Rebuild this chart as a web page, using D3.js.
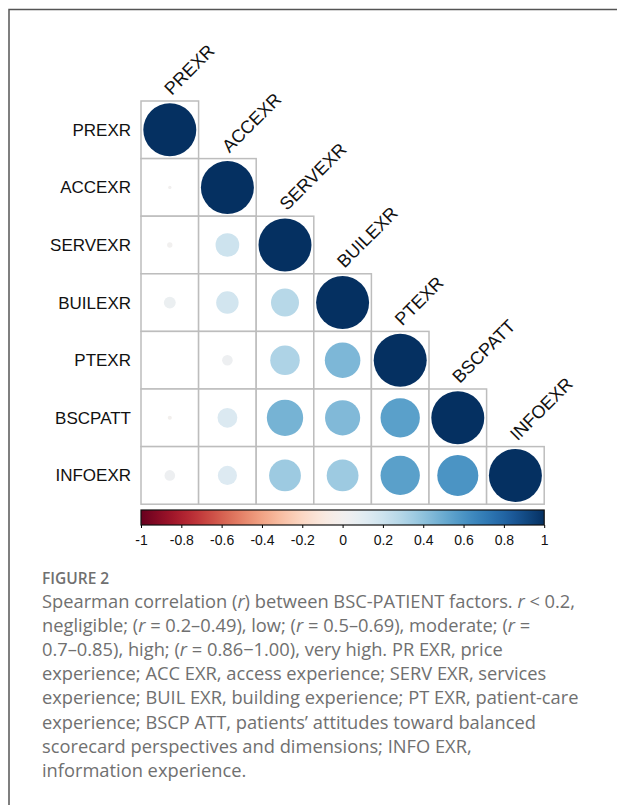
<!DOCTYPE html>
<html>
<head>
<meta charset="utf-8">
<script src="https://cdn.jsdelivr.net/npm/d3@7"></script>
<style>
  body { margin: 0; background: #fff; }
  .caption { font-family: "Open Sans", sans-serif; }
</style>
</head>
<body>
<div class="chart"></div>
<script>
// variable names (rows top to bottom, columns left to right)
const vars = ["PREXR", "ACCEXR", "SERVEXR", "BUILEXR", "PTEXR", "BSCPATT", "INFOEXR"];

// lower triangle of the Spearman matrix, one array per row
const rowPREXR = [1];
const rowACCEXR = [0.004, 1];
const rowSERVEXR = [0.01, 0.2, 1];
const rowBUILEXR = [0.05, 0.18, 0.28, 1];
const rowPTEXR = [0.0, 0.04, 0.31, 0.45, 1];
const rowBSCPATT = [-0.006, 0.14, 0.47, 0.44, 0.55, 1];
const rowINFOEXR = [0.04, 0.13, 0.36, 0.36, 0.55, 0.6, 1];

const legendTicks = [-1, -0.8, -0.6, -0.4, -0.2, 0, 0.2, 0.4, 0.6, 0.8, 1];

const rows = [rowPREXR, rowACCEXR, rowSERVEXR, rowBUILEXR, rowPTEXR, rowBSCPATT, rowINFOEXR];

const captionTitle = "FIGURE 2";
const captionLines = [
  [["Spearman correlation ("], ["r", 1], [") between BSC-PATIENT factors. "], ["r", 1], [" < 0.2,"]],
  [["negligible; ("], ["r", 1], [" = 0.2\u20130.49), low; ("], ["r", 1], [" = 0.5\u20130.69), moderate; ("], ["r", 1], [" ="]],
  [["0.7\u20130.85), high; ("], ["r", 1], [" = 0.86\u22121.00), very high. PR EXR, price"]],
  [["experience; ACC EXR, access experience; SERV EXR, services"]],
  [["experience; BUIL EXR, building experience; PT EXR, patient-care"]],
  [["experience; BSCP ATT, patients\u2019 attitudes toward balanced"]],
  [["scorecard perspectives and dimensions; INFO EXR,"]],
  [["information experience."]]
];

const W = 617, H = 805;
const svg = d3.select(".chart").append("svg").attr("width", W).attr("height", H);

// outer frame
svg.append("rect")
  .attr("x", 9).attr("y", 9.5)
  .attr("width", 700).attr("height", 900)
  .attr("fill", "none").attr("stroke", "#555").attr("stroke-width", 1.5);

const gx0 = 141, gy0 = 101, cell = 57.6;
const xScale = d3.scaleBand().domain(vars).range([gx0, gx0 + cell * 7]);
const yScale = d3.scaleBand().domain(vars).range([gy0, gy0 + cell * 7]);
const rScale = d3.scaleSqrt().domain([0, 1]).range([0, cell * 0.46]);
const color = d3.scaleSequential(d3.interpolateRdBu).domain([-1, 1]);

const cells = [];
rows.forEach((r, i) => r.forEach((v, j) => cells.push({ row: vars[i], col: vars[j], v })));

svg.append("g").selectAll("rect").data(cells).enter().append("rect")
  .attr("x", (d) => xScale(d.col))
  .attr("y", (d) => yScale(d.row))
  .attr("width", xScale.bandwidth())
  .attr("height", yScale.bandwidth())
  .attr("fill", "#fff")
  .attr("stroke", "#bdbdbd")
  .attr("stroke-width", 1.5);

svg.append("g").selectAll("circle").data(cells).enter().append("circle")
  .attr("cx", (d) => xScale(d.col) + xScale.bandwidth() / 2)
  .attr("cy", (d) => yScale(d.row) + yScale.bandwidth() / 2)
  .attr("r", (d) => rScale(Math.abs(d.v)))
  .attr("fill", (d) => color(d.v));

// row labels
svg.append("g").selectAll("text").data(vars).enter().append("text")
  .attr("x", gx0 - 10)
  .attr("y", (d) => yScale(d) + yScale.bandwidth() / 2)
  .attr("dy", "0.35em")
  .attr("text-anchor", "end")
  .attr("font-family", "Liberation Sans, Arial, sans-serif")
  .attr("font-size", 17)
  .attr("fill", "#111")
  .text((d) => d);

// column labels, rotated over the diagonal
svg.append("g").selectAll("text").data(vars).enter().append("text")
  .attr("transform", (d) => `translate(${xScale(d) + xScale.bandwidth() / 2 + 2},${yScale(d) - 5}) rotate(-45)`)
  .attr("font-family", "Liberation Sans, Arial, sans-serif")
  .attr("font-size", 18)
  .attr("fill", "#111")
  .text((d) => d);

// colour legend
const lx = d3.scaleLinear().domain([-1, 1]).range([gx0, gx0 + cell * 7]);
const grad = svg.append("defs").append("linearGradient").attr("id", "rdbu");
d3.range(0, 1.0001, 0.02).forEach((t) => {
  grad.append("stop").attr("offset", t).attr("stop-color", color(-1 + 2 * t));
});
svg.append("rect")
  .attr("x", lx(-1)).attr("y", 510)
  .attr("width", lx(1) - lx(-1)).attr("height", 15)
  .attr("fill", "url(#rdbu)")
  .attr("stroke", "#111").attr("stroke-width", 1.2);

const legendAxis = d3.axisBottom(lx).tickValues(legendTicks).tickSize(3).tickPadding(7)
  .tickFormat((d) => d3.format("")(d).replace("\u2212", "-"));
const ag = svg.append("g").attr("transform", "translate(0,525)").call(legendAxis);
ag.select(".domain").remove();
ag.selectAll("text").attr("font-family", "Liberation Sans, Arial, sans-serif").attr("font-size", 14).attr("fill", "#111");

// caption
svg.append("text").attr("class", "caption")
  .attr("x", 42).attr("y", 584)
  .attr("font-size", 15.5).attr("font-weight", 600).attr("fill", "#707070")
  .text(captionTitle);

const cap = svg.append("text").attr("class", "caption")
  .attr("font-size", 18.3).attr("fill", "#707070");
captionLines.forEach((line, i) => {
  line.forEach((part, k) => {
    const t = cap.append("tspan").text(part[0]);
    if (k === 0) t.attr("x", 42).attr("y", 608 + i * 24.1);
    if (part[1]) t.attr("font-style", "italic");
  });
});
</script>
</body>
</html>
